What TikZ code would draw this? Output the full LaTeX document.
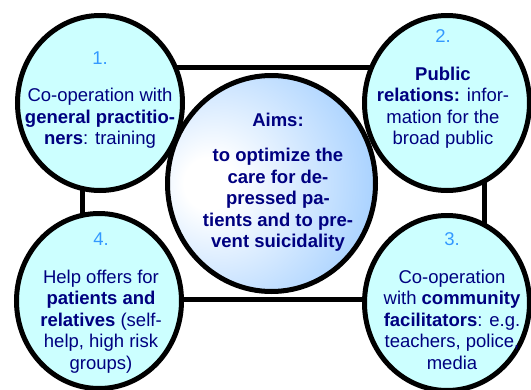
\documentclass[tikz,border=0pt]{standalone}
\usepackage{fontspec}
\setmainfont{Liberation Sans}
\usetikzlibrary{shapes.geometric}
\definecolor{cyanfill}{RGB}{204,255,255}
\definecolor{navytext}{RGB}{0,0,128}
\definecolor{numblue}{RGB}{51,153,255}
\definecolor{aimsblue}{RGB}{150,200,255}
\pgfdeclareradialshading{aimsshade}{\pgfpoint{-16bp}{0bp}}{color(0bp)=(white); color(6bp)=(white); color(42bp)=(aimsblue); color(100bp)=(aimsblue)}
\begin{document}
\begin{tikzpicture}[x=1pt,y=-1pt,
  outer/.style={draw=black, line width=5pt, fill=cyanfill, ellipse, minimum width=165pt, minimum height=175pt, inner sep=0pt},
  centre/.style={draw=black, line width=5pt, ellipse, shading=aimsshade, minimum width=208pt, minimum height=216pt, inner sep=0pt},
  frame/.style={draw=black, line width=5pt},
  txt/.style={align=center, text=navytext, inner sep=0pt, font=\fontsize{18.5}{21.5}\selectfont},
  num/.style={text=numblue}]
\useasboundingbox (0,0) rectangle (531,389);
\coordinate (tl) at (82.5,67);
\coordinate (tr) at (484,67);
\coordinate (br) at (484,299);
\coordinate (bl) at (82.5,299);
\draw[frame] (tl) -- (tr) -- (br) -- (bl) -- cycle;
\node[outer] (c1) at (100,103) {};
\node[outer] (c2) at (447,103) {};
\node[outer] (c3) at (447,303) {};
\node[outer] (c4) at (99,301) {};
\node[centre] (c0) at (271.5,183.5) {};
\node[txt] (t1) at (100,100) {{\color{numblue}1.}\\[16pt]Co-operation with\\\textbf{general practitio-}\\\textbf{ners}: training};
\node[txt] (t2) at (443,89) {{\color{numblue}2.}\\[16pt]\textbf{Public}\\\textbf{relations:} infor-\\mation for the\\broad public};
\node[txt] (t3) at (452,301) {{\color{numblue}3.}\\[16pt]Co-operation\\with \textbf{community}\\\textbf{facilitators}: e.g.\\teachers, police,\\media};
\node[txt] (t4) at (101,303) {{\color{numblue}4.}\\[16pt]Help offers for\\\textbf{patients and}\\\textbf{relatives} (self-\\help, high risk\\groups)};
\node[txt, font=\fontsize{18.5}{21.5}\selectfont\bfseries] (t0) at (278,182) {Aims:\\[14pt]to optimize the\\care for de-\\pressed pa-\\tients and to pre-\\vent suicidality};
\end{tikzpicture}
\end{document}
